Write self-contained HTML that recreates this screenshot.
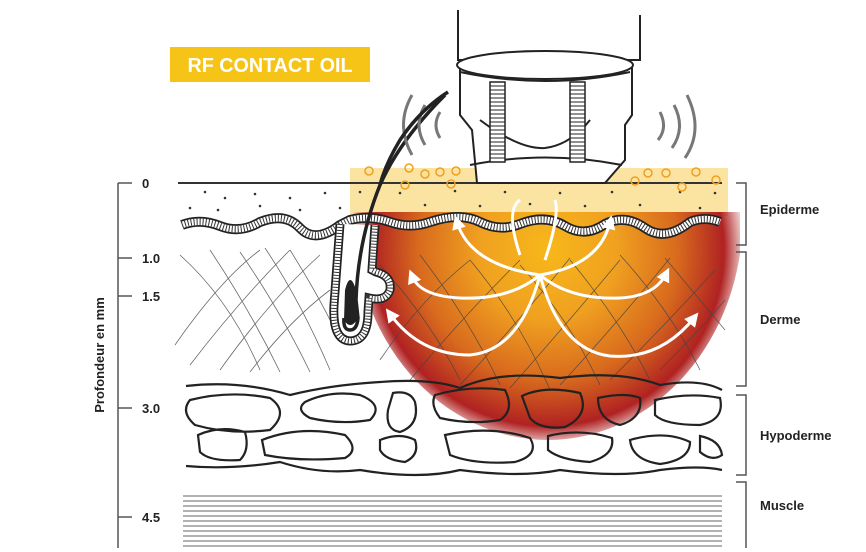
<!DOCTYPE html>
<html><head><meta charset="utf-8"><style>
html,body{margin:0;padding:0;background:#fff;}
svg{display:block;}
text{font-family:"Liberation Sans",sans-serif;font-weight:bold;}
</style></head><body>
<svg width="866" height="552" viewBox="0 0 866 552" xmlns="http://www.w3.org/2000/svg">
<defs>
<radialGradient id="heat" cx="548" cy="250" r="200" gradientUnits="userSpaceOnUse">
<stop offset="0" stop-color="#f7b81a"/>
<stop offset="0.35" stop-color="#f0a020"/>
<stop offset="0.65" stop-color="#d86a1e"/>
<stop offset="0.88" stop-color="#b02222"/>
<stop offset="1" stop-color="#b02222" stop-opacity="0"/>
</radialGradient>
<marker id="ah" markerWidth="14" markerHeight="14" refX="7" refY="7" orient="auto" markerUnits="userSpaceOnUse"><path d="M0,0 L14,7 L0,14 Z" fill="#fff"/></marker>
<clipPath id="below"><rect x="340" y="212" width="400" height="240"/></clipPath>
</defs>

<rect x="170" y="47" width="200" height="35" fill="#f6c416"/>
<text x="270" y="72" font-size="20" fill="#fff" text-anchor="middle" textLength="165" lengthAdjust="spacingAndGlyphs">RF CONTACT OIL</text>

<rect x="350" y="168" width="378" height="48" fill="#fbe4a2"/>
<ellipse cx="548" cy="215" rx="195" ry="225" fill="url(#heat)" clip-path="url(#below)"/>

<g stroke="#555" stroke-width="1.5" fill="none">
<line x1="118" y1="183" x2="118" y2="548"/>
<line x1="118" y1="183" x2="132" y2="183"/>
<line x1="118" y1="258" x2="132" y2="258"/>
<line x1="118" y1="296" x2="132" y2="296"/>
<line x1="118" y1="408" x2="132" y2="408"/>
<line x1="118" y1="517" x2="132" y2="517"/>
</g>
<g font-size="13" fill="#222">
<text x="142" y="188">0</text>
<text x="142" y="263">1.0</text>
<text x="142" y="301">1.5</text>
<text x="142" y="413">3.0</text>
<text x="142" y="522">4.5</text>
<text transform="translate(104 355) rotate(-90)" text-anchor="middle">Profondeur en mm</text>
</g>
<g stroke="#555" stroke-width="1.5" fill="none">
<path d="M736 183 H746 V245 H736"/>
<path d="M736 252 H746 V386 H736"/>
<path d="M736 395 H746 V475 H736"/>
<path d="M736 482 H746 V548"/>
</g>
<g font-size="13" fill="#222">
<text x="760" y="214">Epiderme</text>
<text x="760" y="324">Derme</text>
<text x="760" y="440">Hypoderme</text>
<text x="760" y="510">Muscle</text>
</g>

<line x1="178" y1="183" x2="722" y2="183" stroke="#333" stroke-width="2"/>
<g fill="#333">
<circle cx="205" cy="192" r="1.3"/><circle cx="225" cy="198" r="1.3"/><circle cx="255" cy="194" r="1.3"/><circle cx="290" cy="198" r="1.3"/><circle cx="325" cy="193" r="1.3"/><circle cx="190" cy="208" r="1.3"/><circle cx="218" cy="210" r="1.3"/><circle cx="260" cy="206" r="1.3"/><circle cx="300" cy="210" r="1.3"/><circle cx="340" cy="208" r="1.3"/>
<circle cx="360" cy="192" r="1.3"/><circle cx="400" cy="193" r="1.3"/><circle cx="455" cy="191" r="1.3"/><circle cx="505" cy="192" r="1.3"/><circle cx="560" cy="193" r="1.3"/><circle cx="612" cy="192" r="1.3"/><circle cx="680" cy="192" r="1.3"/><circle cx="715" cy="193" r="1.3"/>
<circle cx="425" cy="205" r="1.3"/><circle cx="480" cy="206" r="1.3"/><circle cx="530" cy="204" r="1.3"/><circle cx="585" cy="206" r="1.3"/><circle cx="640" cy="205" r="1.3"/><circle cx="700" cy="208" r="1.3"/>
</g>
<g fill="none" stroke="#f0a020" stroke-width="1.5">
<circle cx="369" cy="171" r="4"/><circle cx="409" cy="168" r="4"/><circle cx="425" cy="174" r="4"/><circle cx="440" cy="172" r="4"/><circle cx="456" cy="171" r="4"/><circle cx="405" cy="185" r="4"/><circle cx="451" cy="184" r="4"/>
<circle cx="635" cy="181" r="4"/><circle cx="648" cy="173" r="4"/><circle cx="666" cy="173" r="4"/><circle cx="696" cy="172" r="4"/><circle cx="682" cy="187" r="4"/><circle cx="716" cy="180" r="4"/>
</g>

<!-- epidermis band -->
<g fill="none">
<path id="ep" d="M182 225 Q200 218 220 226 T260 222 Q285 212 300 228 T340 225 L350 220 Q370 215 390 222 T430 222 Q460 212 480 222 T520 224 Q545 214 565 226 T605 224 Q625 214 645 228 T690 222 Q705 216 720 222" stroke="#222" stroke-width="10"/>
<path d="M182 225 Q200 218 220 226 T260 222 Q285 212 300 228 T340 225 L350 220 Q370 215 390 222 T430 222 Q460 212 480 222 T520 224 Q545 214 565 226 T605 224 Q625 214 645 228 T690 222 Q705 216 720 222" stroke="#fff" stroke-width="6.5"/>
<path d="M182 225 Q200 218 220 226 T260 222 Q285 212 300 228 T340 225 L350 220 Q370 215 390 222 T430 222 Q460 212 480 222 T520 224 Q545 214 565 226 T605 224 Q625 214 645 228 T690 222 Q705 216 720 222" stroke="#333" stroke-width="6.5" stroke-dasharray="1 2"/>
</g>

<g stroke="#444" stroke-width="0.8" fill="none" opacity="0.8">
<path d="M180 255 Q230 300 260 370"/><path d="M210 250 Q250 310 280 372"/><path d="M240 252 Q280 310 310 372"/><path d="M265 248 Q300 300 330 370"/><path d="M290 250 Q315 290 330 320"/>
<path d="M175 345 Q220 280 260 250"/><path d="M190 365 Q240 300 290 250"/><path d="M220 370 Q270 300 320 255"/><path d="M250 372 Q290 320 330 290"/>
<path d="M380 265 Q430 320 460 380"/><path d="M420 255 Q470 320 500 385"/><path d="M470 260 Q520 320 550 390"/><path d="M520 265 Q570 320 600 385"/><path d="M570 260 Q620 320 650 380"/><path d="M620 255 Q670 310 700 370"/><path d="M665 258 Q700 300 725 330"/>
<path d="M380 360 Q420 300 470 260"/><path d="M410 380 Q460 320 520 260"/><path d="M460 385 Q520 320 570 258"/><path d="M510 388 Q570 320 620 260"/><path d="M560 385 Q620 320 670 258"/><path d="M610 380 Q670 320 715 270"/><path d="M660 370 Q700 330 725 300"/>
</g>

<!-- hair follicle -->
<path d="M340 224 L334 305 Q332 340 350 341 Q368 341 368 312 L369 298 Q386 302 390 290 Q392 276 376 272 L372 270 L375 225 Z" fill="#fff"/>
<g fill="none">
<path d="M340 224 L334 305 Q332 340 350 341 Q368 341 368 312 L369 298 Q386 302 390 290 Q392 276 376 272 L372 270 L375 225" stroke="#222" stroke-width="9"/>
<path d="M340 224 L334 305 Q332 340 350 341 Q368 341 368 312 L369 298 Q386 302 390 290 Q392 276 376 272 L372 270 L375 225" stroke="#fff" stroke-width="5.5"/>
<path d="M340 224 L334 305 Q332 340 350 341 Q368 341 368 312 L369 298 Q386 302 390 290 Q392 276 376 272 L372 270 L375 225" stroke="#333" stroke-width="5.5" stroke-dasharray="1 2"/>
</g>
<path d="M344 318 Q343 330 350 330 Q357 330 358 318 L356 300 Q358 240 380 185 Q400 140 445 95" fill="none" stroke="#222" stroke-width="3.5"/>
<path d="M344 320 Q350 330 357 320 L356 290 Q350 270 345 290 Z" fill="#222"/>

<g stroke="#222" stroke-width="2.2" fill="none">
<path d="M186 386 Q240 380 290 395 Q330 385 380 382 Q430 378 460 388 Q500 370 560 378 Q620 370 660 385 Q700 378 722 390"/>
<path d="M190 400 Q230 390 270 398 Q290 412 270 430 Q230 435 195 425 Q180 412 190 400Z"/>
<path d="M305 402 Q330 390 360 395 Q385 405 370 420 Q340 425 310 418 Q295 410 305 402Z"/>
<path d="M393 393 Q410 390 415 402 Q420 425 400 432 Q385 430 388 410Z"/>
<path d="M435 395 Q470 385 505 390 Q515 410 500 420 Q470 425 440 418 Q430 405 435 395Z"/>
<path d="M522 396 Q545 385 580 393 Q590 415 565 427 Q540 430 530 418Z"/>
<path d="M598 398 Q625 392 640 398 Q643 418 620 425 Q598 420 598 398Z"/>
<path d="M655 400 Q690 392 720 398 Q725 420 700 425 Q665 425 655 415Z"/>
<path d="M198 435 Q220 425 245 432 Q250 450 240 460 Q210 462 200 452Z"/>
<path d="M262 440 Q300 425 345 435 Q360 450 345 458 Q300 462 265 455Z"/>
<path d="M380 440 Q400 432 415 440 Q420 455 405 462 Q385 460 380 450Z"/>
<path d="M445 435 Q490 425 530 438 Q540 455 515 462 Q475 465 450 455Z"/>
<path d="M548 436 Q580 428 612 438 Q615 455 590 462 Q560 460 548 450Z"/>
<path d="M630 440 Q665 430 690 442 Q690 460 660 464 Q632 460 630 440Z"/>
<path d="M700 436 Q720 440 722 455 Q712 462 700 452Z"/>
<path d="M186 466 Q230 470 280 462 Q320 475 360 470 Q420 480 460 470 Q520 478 560 470 Q620 478 660 470 Q700 465 722 470"/>
</g>

<g stroke="#666" stroke-width="1">
<line x1="183" y1="496" x2="722" y2="496"/><line x1="183" y1="501" x2="722" y2="501"/><line x1="183" y1="506" x2="722" y2="506"/><line x1="183" y1="511" x2="722" y2="511"/><line x1="183" y1="516" x2="722" y2="516"/><line x1="183" y1="521" x2="722" y2="521"/><line x1="183" y1="526" x2="722" y2="526"/><line x1="183" y1="531" x2="722" y2="531"/><line x1="183" y1="536" x2="722" y2="536"/><line x1="183" y1="541" x2="722" y2="541"/><line x1="183" y1="546" x2="722" y2="546"/>
</g>

<g stroke="#fff" stroke-width="3" fill="none" marker-end="url(#ah)">
<path d="M540 275 Q520 350 470 355 Q420 355 390 314"/>
<path d="M540 275 Q560 350 610 356 Q660 360 694 318"/>
<path d="M540 275 Q510 300 460 298 Q420 296 412 276"/>
<path d="M540 275 Q570 300 620 298 Q655 296 666 274"/>
<path d="M540 275 Q470 265 457 222"/>
<path d="M540 275 Q600 265 610 222"/>
<path d="M520 255 Q505 210 520 200" marker-end="none"/>
<path d="M545 260 Q560 215 555 200" marker-end="none"/>
</g>

<g stroke="#777" stroke-width="3" fill="none">
<path d="M412 95 Q395 125 412 155"/><path d="M425 105 Q413 125 425 145"/><path d="M440 112 Q432 125 440 138"/>
<path d="M687 95 Q704 130 685 158"/><path d="M674 105 Q686 128 672 148"/><path d="M660 112 Q668 128 658 140"/>
</g>

<g stroke="#222" stroke-width="2" fill="#fff">
<path d="M458 10 L458 60 L640 60 L640 15" fill="none"/>
<path d="M460 65 L460 115 L472 130 L477 183 L605 183 L625 160 L625 125 L632 115 L632 65 Z"/>
<ellipse cx="545" cy="65" rx="88" ry="14"/>
<path d="M460 72 Q545 90 630 72" fill="none"/>
<path d="M470 165 Q545 150 622 165" fill="none"/>
<path d="M480 120 Q520 150 545 148 Q570 145 590 120" fill="none"/>
</g>
<g stroke="#222" stroke-width="1.5" fill="#fff">
<rect x="490" y="82" width="15" height="80"/>
<rect x="570" y="82" width="15" height="80"/>
</g>
<g stroke="#222" stroke-width="1">
<path d="M490 86h15M490 90h15M490 94h15M490 98h15M490 102h15M490 106h15M490 110h15M490 114h15M490 118h15M490 122h15M490 126h15M490 130h15M490 134h15M490 138h15M490 142h15M490 146h15M490 150h15M490 154h15M490 158h15"/>
<path d="M570 86h15M570 90h15M570 94h15M570 98h15M570 102h15M570 106h15M570 110h15M570 114h15M570 118h15M570 122h15M570 126h15M570 130h15M570 134h15M570 138h15M570 142h15M570 146h15M570 150h15M570 154h15M570 158h15"/>
</g>
<path d="M448 92 Q420 110 400 140 Q385 165 380 185" fill="none" stroke="#222" stroke-width="3.5"/>
</svg>
</body></html>
